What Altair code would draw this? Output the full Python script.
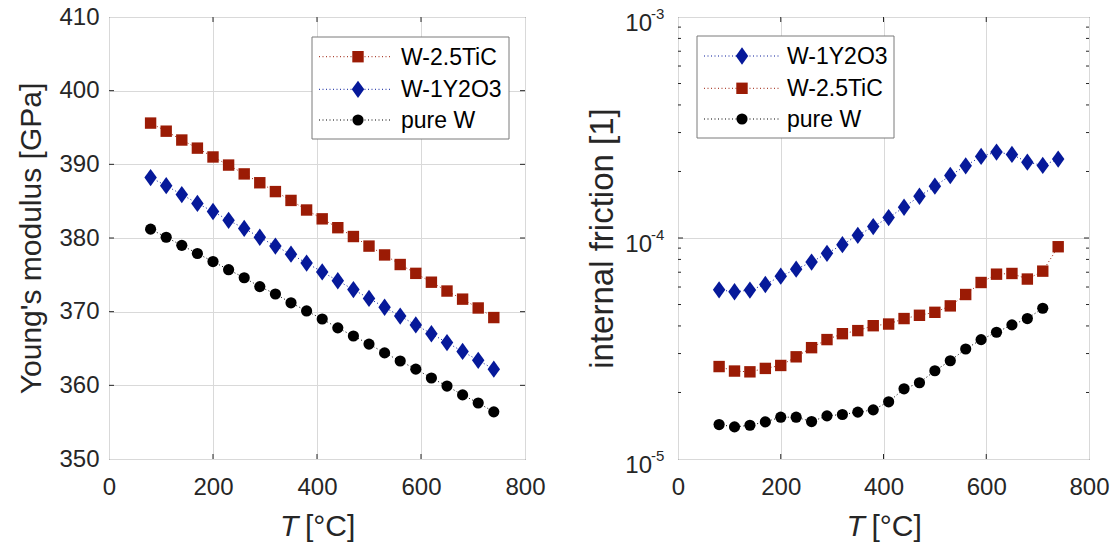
import altair as alt
import pandas as pd

FONT = "Liberation Sans"
INK = "#262626"
GRID = "#d9d9d9"

# ---------------- data ----------------
temps = [80, 110, 140, 170, 200, 230, 260, 290, 320, 350, 380, 410,
         440, 470, 500, 530, 560, 590, 620, 650, 680, 710, 740]

series_names = ["W-2.5TiC", "W-1Y2O3", "pure W"]
series_colors = ["#9B1B05", "#06199A", "#000000"]
diamond = "M0,-1L0.72,0L0,1L-0.72,0Z"
series_shapes = ["square", diamond, "circle"]
series_sizes = [130, 300, 125]

E_tic = [395.6, 394.5, 393.3, 392.2, 391.0, 389.9, 388.7, 387.5, 386.3, 385.1, 383.8, 382.6,
         381.4, 380.2, 378.9, 377.7, 376.4, 375.2, 374.0, 372.8, 371.7, 370.5, 369.2]
E_y2o3 = [388.2, 387.1, 385.9, 384.7, 383.6, 382.4, 381.3, 380.1, 378.9, 377.8, 376.6, 375.4,
          374.2, 373.0, 371.8, 370.6, 369.4, 368.2, 367.0, 365.8, 364.6, 363.4, 362.2]
E_w = [381.2, 380.1, 379.0, 377.9, 376.8, 375.7, 374.6, 373.4, 372.4, 371.2, 370.1, 369.0,
       367.8, 366.7, 365.6, 364.4, 363.3, 362.2, 361.0, 359.9, 358.7, 357.6, 356.4]

Q_y2o3 = [5.83e-5, 5.71e-5, 5.81e-5, 6.16e-5, 6.72e-5, 7.23e-5, 7.78e-5, 8.52e-5, 9.33e-5,
          1.028e-4, 1.126e-4, 1.237e-4, 1.378e-4, 1.545e-4, 1.716e-4, 1.918e-4, 2.122e-4,
          2.339e-4, 2.447e-4, 2.388e-4, 2.204e-4, 2.13e-4, 2.275e-4]
Q_tic = [2.62e-5, 2.50e-5, 2.48e-5, 2.57e-5, 2.65e-5, 2.90e-5, 3.19e-5, 3.47e-5, 3.69e-5,
         3.81e-5, 4.01e-5, 4.08e-5, 4.32e-5, 4.47e-5, 4.61e-5, 4.93e-5, 5.55e-5, 6.29e-5,
         6.86e-5, 6.91e-5, 6.52e-5, 7.08e-5, 9.13e-5]
Q_w = [1.432e-5, 1.397e-5, 1.421e-5, 1.472e-5, 1.546e-5, 1.546e-5, 1.477e-5, 1.568e-5,
       1.59e-5, 1.629e-5, 1.669e-5, 1.815e-5, 2.078e-5, 2.213e-5, 2.508e-5, 2.784e-5,
       3.146e-5, 3.468e-5, 3.745e-5, 4.043e-5, 4.32e-5, 4.81e-5]

x_ticks = [0, 200, 400, 600, 800]
E_ticks = [350, 360, 370, 380, 390, 400, 410]
Q_major = [1e-5, 1e-4, 1e-3]
Q_minor = [2e-5, 3e-5, 4e-5, 5e-5, 6e-5, 7e-5, 8e-5, 9e-5,
           2e-4, 3e-4, 4e-4, 5e-4, 6e-4, 7e-4, 8e-4, 9e-4]
Q_exp = ["-5", "-4", "-3"]

left_legend = ["W-2.5TiC", "W-1Y2O3", "pure W"]
right_legend = ["W-1Y2O3", "W-2.5TiC", "pure W"]


def long_df(pairs):
    rows = []
    for name, ys in pairs:
        for t, v in zip(temps, ys):
            rows.append({"T": t, "v": v, "series": name})
    return pd.DataFrame(rows)


df_E = long_df([("W-2.5TiC", E_tic), ("W-1Y2O3", E_y2o3), ("pure W", E_w)])
df_Q = long_df([("W-1Y2O3", Q_y2o3), ("W-2.5TiC", Q_tic), ("pure W", Q_w)])

W1, W2, H = 416, 411, 442

color_enc = alt.Color("series:N", scale=alt.Scale(domain=series_names, range=series_colors), legend=None)


def x_enc():
    return alt.X("T:Q", scale=alt.Scale(domain=[0, 800], nice=False),
                 axis=alt.Axis(values=x_ticks, title=None, grid=True, ticks=False, tickSize=0,
                               domain=False, labelPadding=16, labelFlush=False,
                               labelOverlap=False, format="d"))


def panel(df, y_enc, W, legend_items, box, rows, line_x, sym_x, text_x, yticks_major,
          yticks_minor, extra_layers):
    base = alt.Chart(df)
    lines = base.mark_line(strokeDash=[1, 2.5], strokeWidth=1).encode(
        x=x_enc(), y=y_enc, color=color_enc, detail="series:N")
    layers = [lines]
    for name, shp, sz, col in zip(series_names, series_shapes, series_sizes, series_colors):
        layers.append(base.transform_filter(alt.datum.series == name).mark_point(
            filled=True, opacity=1, strokeWidth=0, shape=shp, size=sz, color=col).encode(
            x=x_enc(), y=y_enc))

    # inner ticks (MATLAB style)
    ydf = pd.DataFrame({"v": yticks_major})
    layers.append(alt.Chart(ydf).mark_rule(color=INK, strokeWidth=1).encode(
        y=y_enc, x=alt.value(0), x2=alt.value(5)))
    layers.append(alt.Chart(ydf).mark_rule(color=INK, strokeWidth=1).encode(
        y=y_enc, x=alt.value(W - 5), x2=alt.value(W)))
    if yticks_minor:
        mdf = pd.DataFrame({"v": yticks_minor})
        layers.append(alt.Chart(mdf).mark_rule(color=INK, strokeWidth=1).encode(
            y=y_enc, x=alt.value(0), x2=alt.value(3)))
        layers.append(alt.Chart(mdf).mark_rule(color=INK, strokeWidth=1).encode(
            y=y_enc, x=alt.value(W - 3), x2=alt.value(W)))
    xdf = pd.DataFrame({"T": x_ticks[1:-1]})
    layers.append(alt.Chart(xdf).mark_rule(color=INK, strokeWidth=1).encode(
        x=x_enc(), y=alt.value(H - 5), y2=alt.value(H)))
    layers.append(alt.Chart(xdf).mark_rule(color=INK, strokeWidth=1).encode(
        x=x_enc(), y=alt.value(0), y2=alt.value(5)))

    layers.extend(extra_layers)

    # legend box
    bx0, bx1, by0, by1 = box
    one = pd.DataFrame({"a": [0]})
    layers.append(alt.Chart(one).mark_rect(
        fill="white", stroke="#7a7a7a", strokeWidth=1).encode(
        x=alt.value(bx0), x2=alt.value(bx1), y=alt.value(by0), y2=alt.value(by1)))
    for name, ry in zip(legend_items, rows):
        i = series_names.index(name)
        c = series_colors[i]
        layers.append(alt.Chart(one).mark_rule(color=c, strokeDash=[1, 2.5], strokeWidth=1).encode(
            x=alt.value(line_x[0]), x2=alt.value(line_x[1]), y=alt.value(ry)))
        layers.append(alt.Chart(one).mark_point(filled=True, opacity=1, strokeWidth=0,
                                                 shape=series_shapes[i], size=series_sizes[i],
                                                 color=c).encode(
            x=alt.value(sym_x), y=alt.value(ry)))
        layers.append(alt.Chart(one).mark_text(text=name, font=FONT, fontSize=23, color="#000000",
                                                align="left", baseline="middle", dy=1).encode(
            x=alt.value(text_x), y=alt.value(ry)))

    # x title: italic T + [°C]
    cx = W / 2
    layers.append(alt.Chart(one).mark_text(text="T", font=FONT, fontSize=30, fontStyle="italic",
                                            color=INK, align="left", baseline="alphabetic").encode(
        x=alt.value(cx - 37), y=alt.value(H + 77)))
    layers.append(alt.Chart(one).mark_text(text="[°C]", font=FONT, fontSize=30,
                                            color=INK, align="left", baseline="alphabetic").encode(
        x=alt.value(cx - 12), y=alt.value(H + 77)))

    return alt.layer(*layers).properties(width=W, height=H)


# left panel
yE = alt.Y("v:Q", scale=alt.Scale(domain=[350, 410], nice=False, zero=False),
           axis=alt.Axis(values=E_ticks, title="Young's modulus [GPa]", grid=True, ticks=False,
                         tickSize=0, domain=False, labelPadding=10, labelOverlap=False,
                         titleX=-78, titleY=H / 2, titleAngle=270, titleBaseline="middle",
                         titleAlign="center"))

left = panel(df_E, yE, W1, left_legend, (203, 400, 20, 122), [39.7, 72.3, 103],
             (210, 282), 249, 292, E_ticks[1:-1], None, [])

# right panel
yQ = alt.Y("v:Q", scale=alt.Scale(type="log", domain=[1e-5, 1e-3], nice=False),
           axis=alt.Axis(values=Q_major, title="internal friction [1]", grid=True, ticks=False,
                         tickSize=0, domain=False, labels=False, titleFontSize=33,
                         titleX=-76, titleY=H / 2, titleAngle=270, titleBaseline="middle",
                         titleAlign="center"))

lab_df = pd.DataFrame({"v": Q_major, "base": ["10"] * 3, "exp": Q_exp})
log_labels = [
    alt.Chart(lab_df).mark_text(font=FONT, fontSize=24, color=INK, align="right",
                                baseline="middle", dy=7).encode(
        y=yQ, x=alt.value(-26), text="base:N"),
    alt.Chart(lab_df).mark_text(font=FONT, fontSize=15, color=INK, align="left",
                                baseline="middle", dy=-3).encode(
        y=yQ, x=alt.value(-27), text="exp:N"),
]

right = panel(df_Q, yQ, W2, right_legend, (19, 216, 19, 121), [39, 71.3, 102],
              (26, 101), 64, 109, [1e-4], Q_minor, log_labels)

chart = alt.hconcat(left, right, spacing=153, bounds="flush").properties(
    padding={"left": 15, "top": 4, "right": 5, "bottom": 0}
).configure_view(stroke=INK, strokeWidth=1).configure_axis(
    labelFont=FONT, titleFont=FONT, labelFontSize=24, titleFontSize=30,
    labelColor=INK, titleColor=INK, titleFontWeight="normal", gridColor=GRID, gridWidth=1
)

chart.save("out.html", embed_options={"renderer": "svg", "actions": False})
